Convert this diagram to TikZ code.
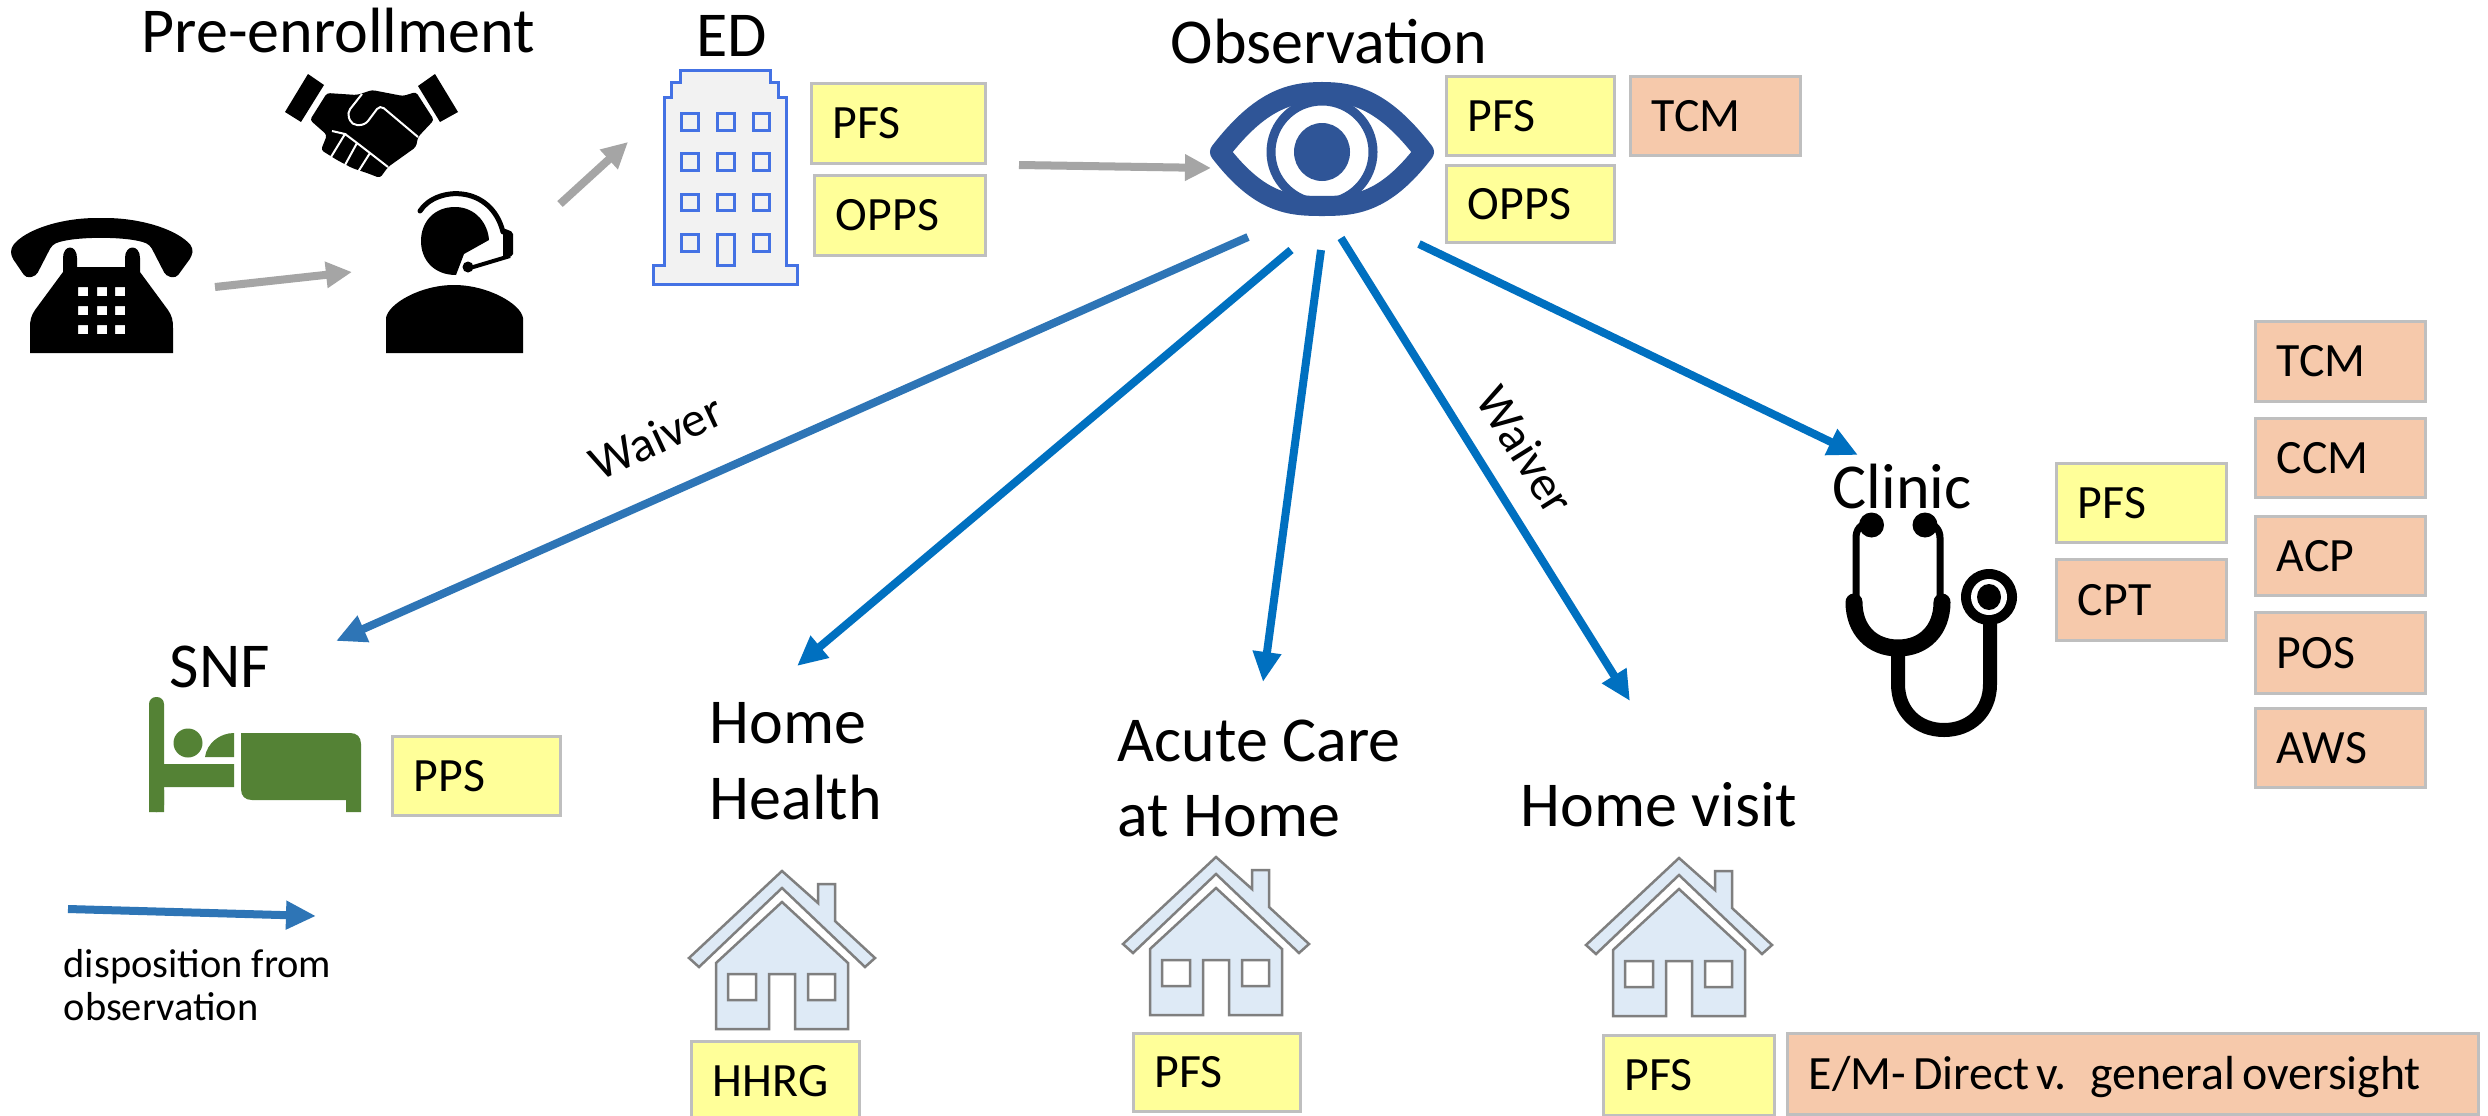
\documentclass[tikz,border=0pt]{standalone}
\usepackage{fontspec}
\setmainfont{Carlito}
\usetikzlibrary{arrows.meta}
\definecolor{boxedge}{HTML}{BFBFBF}
\definecolor{yel}{HTML}{FFFF99}
\definecolor{org}{HTML}{F6C9AB}
\definecolor{grayarrow}{HTML}{A5A5A5}
\definecolor{bluea}{HTML}{0070C0}
\definecolor{blueb}{HTML}{2E75B6}
\definecolor{eyeblue}{HTML}{2F5597}
\definecolor{bedgreen}{HTML}{548235}
\definecolor{bldgblue}{HTML}{4472E4}
\definecolor{bldgfill}{HTML}{F2F2F2}
\definecolor{housefill}{HTML}{DEEAF6}
\definecolor{houseedge}{HTML}{7F7F7F}
\newcommand\bx[7]{% name,x1,y1,x2,y2,style,text
  \pgfmathsetmacro\bw{(#4-#2)/100}\pgfmathsetmacro\bh{(#5-#3)/100}
  \pgfmathsetmacro\bt{(#4-#2-42)/100}
  \node[codebox,#6,minimum width=\bw cm,minimum height=\bh cm,text width=\bt cm] (#1) at ({(#2+#4)/2},{(#3+#5)/2}) {#7};}
\tikzset{
  codebox/.style={draw=boxedge,line width=0.03cm,rectangle,inner ysep=0pt,inner xsep=0.21cm,align=left,
    text height=0.30cm,text depth=0cm,font=\fontsize{13.6}{15}\selectfont},
  yelbox/.style={fill=yel},
  orgbox/.style={fill=org},
  title/.style={anchor=base west,inner sep=0pt,font=\fontsize{18.2}{21}\selectfont},
  smalltxt/.style={inner sep=0pt,font=\fontsize{14}{16}\selectfont},
  legendtxt/.style={anchor=base west,inner sep=0pt,font=\fontsize{11.5}{13}\selectfont},
  grayflow/.style={draw=grayarrow,line width=0.08cm,-{Triangle[length=0.26cm,width=0.25cm]}},
  blueflow/.style={draw=bluea,line width=0.08cm,-{Triangle[length=0.30cm,width=0.27cm]}},
  dispflow/.style={draw=blueb,line width=0.08cm,-{Triangle[length=0.30cm,width=0.27cm]}},
  houseicon/.pic={
    \path[fill=housefill,draw=houseedge,line width=0.025cm,line join=miter]
      (0,0) -- (36,32) -- (36,13) -- (53,13) -- (53,50) -- (93,87) -- (83,96) -- (0,17) -- (-83,96) -- (-93,87) -- cycle;
    \path[fill=housefill,draw=houseedge,line width=0.025cm,even odd rule]
      (0,31) -- (-66,92) -- (-66,158) -- (-13,158) -- (-13,103) -- (13,103) -- (13,158) -- (66,158) -- (66,92) -- cycle
      (-54,103) rectangle (-26,129) (26,103) rectangle (53,129);
  }
}
\begin{document}
\begin{tikzpicture}[x=0.01cm,y=-0.01cm]
\useasboundingbox (0,0) rectangle (2488,1115);
\clip (0,0) rectangle (2488,1115);
\fill[white] (0,0) rectangle (2488,1115);

% titles
\node[title] (tPre) at (141,52) {Pre-enrollment};
\node[title] (tED) at (696,57) {ED};
\node[title] (tObs) at (1170,63) {Observation};
\node[title] (tClinic) at (1832,508) {Clinic};
\node[title] (tSNF) at (169,687) {SNF};
\node[title] (tHH1) at (709,743) {Home};
\node[title] (tHH2) at (709,819) {Health};
\node[title] (tAC1) at (1117,761) {Acute Care};
\node[title] (tAC2) at (1117,836) {at Home};
\node[title] (tHV) at (1520,826) {Home visit};

% phone
\fill[black,rounded corners=0.04cm] (11,248) .. controls (25,230) and (60,218) .. (101,218) .. controls (142,218) and (178,230) .. (193,248)
  -- (192,256) -- (176,278) -- (166,276) -- (150,245) .. controls (130,236) and (72,236) .. (52,245) -- (36,276) -- (26,278) -- (11,256) -- cycle;
\fill[black,even odd rule] (63,258) .. controls (63,244) and (77,244) .. (77,258) -- (77,267) -- (125,267) -- (125,258) .. controls (125,244) and (140,244) .. (140,258)
  -- (140,272) -- (168,310) .. controls (172,316) and (173,320) .. (173,328) -- (173,353) -- (30,353) -- (30,328) .. controls (30,320) and (31,316) .. (35,310) -- (63,272) -- cycle
  (78,287) rectangle (88,296) (97,287) rectangle (107,296) (115,287) rectangle (125,296)
  (78,306) rectangle (88,315) (97,306) rectangle (107,315) (115,306) rectangle (125,315)
  (78,325) rectangle (88,334) (97,325) rectangle (107,334) (115,325) rectangle (125,334);

% handshake
\fill[black] (308,74) -- (324,85) -- (301,122) -- (285,112) -- cycle;
\fill[black] (435,74) -- (418,86) -- (440,122) -- (458,112) -- cycle;
\fill[black,rounded corners=0.03cm] (327,93) -- (357,95) -- (372,90) -- (403,96) -- (416,92) -- (434,120) -- (418,137) -- (416,147) -- (388,167) -- (380,178) -- (367,173) -- (352,168) -- (337,160) -- (321,150) -- (327,135) -- (310,120) -- cycle;
\draw[white,line width=0.02cm,rounded corners=0.05cm] (362,94) -- (347,113) -- (352,125) -- (365,125) -- (380,105) -- (418,137);
\draw[white,line width=0.02cm] (332,131) -- (345,134) -- (331,157) (357,143) -- (345,165) (370,153) -- (358,172) (345,134) -- (357,143) -- (370,153) -- (388,167);

% agent
\fill[black] (386,353) -- (386,318) .. controls (388,304) and (420,285) .. (454,285) .. controls (488,285) and (521,304) .. (523,318) -- (523,353) -- cycle;
\fill[black] (455,207) .. controls (476,207) and (488,224) .. (489,240) -- (464,254) -- (456,275) .. controls (434,275) and (421,260) .. (421,241) .. controls (421,222) and (434,207) .. (455,207) -- cycle;
\draw[black,line width=0.05cm,line cap=round] (420,211) .. controls (436,186) and (491,184) .. (503,232);
\fill[black,rounded corners=0.02cm] (503,228) -- (513,232) -- (513,256) -- (503,258) -- cycle;
\draw[black,line width=0.04cm] (510,256) -- (470,268);
\fill[black] (468,267) circle (5.5);

% building
\path[fill=bldgfill,draw=bldgblue,line width=0.03cm] (680,70) -- (770,70) -- (770,82) -- (778,82) -- (778,97) -- (786,97) -- (786,265) -- (797,265) -- (797,284) -- (653,284) -- (653,265) -- (664,265) -- (664,97) -- (671,97) -- (671,82) -- (680,82) -- cycle;
\foreach \wy/\wz in {113/130,153/170,194/210}{
  \foreach \wx/\wr in {681/698,717/734,753/769}{
    \draw[bldgblue,line width=0.03cm] (\wx,\wy) rectangle (\wr,\wz);
  }
}
\draw[bldgblue,line width=0.03cm] (681,234) rectangle (698,251) (753,234) rectangle (769,251) (717,234) rectangle (734,265);

% eye
\begin{scope}
  \clip (1220,152) .. controls (1260,100) and (1290,92) .. (1322,92) .. controls (1354,92) and (1384,100) .. (1424,152) .. controls (1384,204) and (1354,206) .. (1322,206) .. controls (1290,206) and (1260,204) .. (1220,152) -- cycle;
  \draw[eyeblue,line width=0.09cm] (1322,152) ellipse [x radius=51,y radius=51];
\end{scope}
\draw[eyeblue,line width=0.20cm,line join=round] (1220,152) .. controls (1260,100) and (1290,92) .. (1322,92) .. controls (1354,92) and (1384,100) .. (1424,152) .. controls (1384,204) and (1354,206) .. (1322,206) .. controls (1290,206) and (1260,204) .. (1220,152) -- cycle;
\fill[eyeblue] (1322,152) ellipse [x radius=28,y radius=29];

% stethoscope
\draw[black,line width=0.07cm,line cap=round] (1871,523) .. controls (1860,523) and (1856,530) .. (1856,538) -- (1856,600);
\draw[black,line width=0.07cm,line cap=round] (1925,523) .. controls (1935,523) and (1940,530) .. (1940,538) -- (1940,600);
\fill[black] (1871.5,525) circle (12.5) (1925,525) circle (12.5);
\draw[black,line width=0.17cm,line cap=round] (1854,602) .. controls (1854,630) and (1872,648) .. (1898,648) .. controls (1924,648) and (1942,630) .. (1942,602);
\draw[black,line width=0.14cm] (1898,650) -- (1898,684) .. controls (1898,712) and (1918,730) .. (1944,730) .. controls (1970,730) and (1990,712) .. (1990,684) -- (1990,615);
\fill[black] (1989,597) ellipse [x radius=28,y radius=28];
\fill[white] (1989,597) ellipse [x radius=18,y radius=18];
\fill[black] (1989,597) ellipse [x radius=12,y radius=13];

% bed
\fill[bedgreen,rounded corners=0.07cm] (149,812) -- (149,697) -- (164,697) -- (164,812) -- cycle;
\fill[bedgreen] (149,790) rectangle (164,812) (164,764) rectangle (234,787);
\fill[bedgreen] (188,743) circle (14.5);
\fill[bedgreen] (205,757) .. controls (207,743) and (220,733) .. (234,733) -- (234,757) -- cycle;
\fill[bedgreen] (241,733) -- (350,733) .. controls (357,733) and (361,737) .. (361,744) -- (361,812) -- (346,812) -- (346,800) -- (252,800) .. controls (245,800) and (241,796) .. (241,789) -- cycle;

% houses
\pic at (782,871) {houseicon};
\pic at (1216,857) {houseicon};
\pic at (1679,858) {houseicon};

% code boxes
\bx{edPFS}{812}{84}{985}{163}{yelbox}{PFS}
\bx{edOPPS}{815}{176}{985}{255}{yelbox}{OPPS}
\bx{obPFS}{1447}{77}{1614}{155}{yelbox}{PFS}
\bx{obTCM}{1631}{77}{1800}{155}{orgbox}{TCM}
\bx{obOPPS}{1447}{166}{1614}{242}{yelbox}{OPPS}
\bx{clPFS}{2057}{464}{2226}{542}{yelbox}{PFS}
\bx{clCPT}{2057}{560}{2226}{640}{orgbox}{CPT}
\bx{rTCM}{2256}{322}{2425}{401}{orgbox}{TCM}
\bx{rCCM}{2256}{419}{2425}{497}{orgbox}{CCM}
\bx{rACP}{2256}{517}{2425}{595}{orgbox}{ACP}
\bx{rPOS}{2256}{613}{2425}{693}{orgbox}{POS}
\bx{rAWS}{2256}{709}{2425}{787}{orgbox}{AWS}
\bx{snfPPS}{393}{737}{560}{815}{yelbox}{PPS}
\bx{hhHHRG}{692}{1042}{859}{1120}{yelbox}{HHRG}
\bx{acPFS}{1134}{1034}{1300}{1111}{yelbox}{PFS}
\bx{hvPFS}{1604}{1036}{1774}{1115}{yelbox}{PFS}
\bx{hvEM}{1788}{1034}{2478}{1114}{orgbox}{\spaceskip=.15em E/M- Direct v. general oversight}

% connector ends
\coordinate (phoneOut) at (215,287);
\coordinate (agentIn) at (352,272);
\coordinate (agentOut) at (560,204);
\coordinate (edIn) at (628,142);
\coordinate (edOut) at (1019,165);
\coordinate (obsIn) at (1211,168);
\coordinate (obsA) at (1248,237);
\coordinate (snfIn) at (336,641);
\coordinate (obsB) at (1291,250);
\coordinate (hhIn) at (797,666);
\coordinate (obsC) at (1321,250);
\coordinate (acIn) at (1263,682);
\coordinate (obsD) at (1341,238);
\coordinate (hvIn) at (1630,701);
\coordinate (obsE) at (1419,244);
\coordinate (clinicIn) at (1858,455);
\coordinate (legA) at (68,909);
\coordinate (legB) at (316,916);

\draw[grayflow] (phoneOut) -- (agentIn);
\draw[grayflow] (agentOut) -- (edIn);
\draw[grayflow] (edOut) -- (obsIn);
\draw[dispflow] (obsA) -- (snfIn);
\draw[blueflow] (obsB) -- (hhIn);
\draw[blueflow] (obsC) -- (acIn);
\draw[blueflow] (obsD) -- (hvIn);
\draw[blueflow] (obsE) -- (clinicIn);
\draw[dispflow] (legA) -- (legB);

% labels
\node[smalltxt,rotate=25] (w1) at (656,437) {Waiver};
\node[smalltxt,rotate=-58] (w2) at (1526,450) {Waiver};
\node[legendtxt] (leg1) at (63,977) {disposition from};
\node[legendtxt] (leg2) at (63,1020) {observation};
\end{tikzpicture}
\end{document}
